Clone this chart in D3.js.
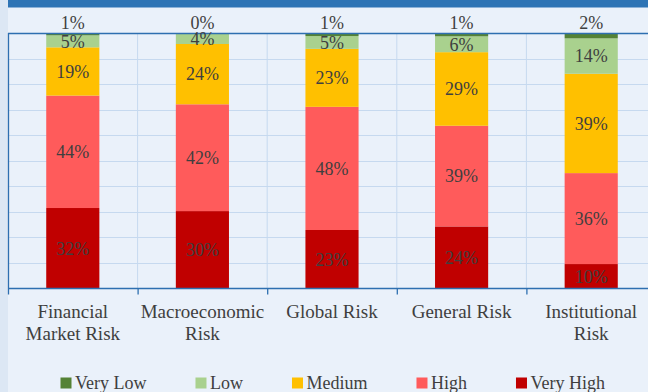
<!DOCTYPE html>
<html lang="en">
<head>
<meta charset="utf-8">
<title>Risk perception stacked columns</title>
<script src="https://cdn.jsdelivr.net/npm/d3@7"></script>
<style>
  html, body { margin: 0; padding: 0; background: #eaf1fa; }
  svg { display: block; font-family: "Liberation Serif", serif; }
</style>
</head>
<body>
<script>
// categories and tick labels (split over two lines like the original)
var categories = ["Financial Market Risk", "Macroeconomic Risk", "Global Risk", "General Risk", "Institutional Risk"];
var tickLines = [["Financial", "Market Risk"], ["Macroeconomic", "Risk"], ["Global Risk"], ["General Risk"], ["Institutional", "Risk"]];

// share of answers per level (percent)
var levels = ["Very Low", "Low", "Medium", "High", "Very High"];
var veryLow  = [0.9, 0.4, 1.2, 1.3, 2.1];
var low      = [4.7, 3.9, 5.0, 6.2, 13.9];
var medium   = [18.9, 23.6, 22.7, 28.8, 39.0];
var high     = [44.0, 41.8, 48.2, 39.4, 35.7];
var veryHigh = [31.5, 30.3, 22.9, 24.3, 9.6];

var colors = ["#548235", "#a9d18e", "#ffc000", "#ff5b5b", "#c00000"];

var w = 648, h = 392;
var svg = d3.select("body").append("svg").attr("width", w).attr("height", h);

// frame: light side strip + blue header band
svg.append("rect").attr("x", 0).attr("y", 0).attr("width", 8).attr("height", h).attr("fill", "#dce7f4");
svg.append("rect").attr("x", 8).attr("y", 0).attr("width", w - 8).attr("height", 7.5).attr("fill", "#2e74b5");

var raw = { "Very Low": veryLow, "Low": low, "Medium": medium, "High": high, "Very High": veryHigh };
var colorOf = d3.scaleOrdinal().domain(levels).range(colors);

// build rows for d3.stack
var table = categories.map(function(c, i) {
  var row = { cat: c, idx: i };
  levels.forEach(function(k) { row[k] = raw[k][i]; });
  return row;
});

// Very High sits at the bottom, Very Low on top
var stack = d3.stack().keys(levels.slice().reverse()).offset(d3.stackOffsetExpand);
var series = stack(table);

// note: "top" is taken by window.top, so plot edges get their own names
var plotL = 8, plotR = 656, plotT = 33, plotB = 288.5;

var x = d3.scaleBand()
  .domain(categories)
  .range([plotL, plotR])
  .paddingInner(0.59)
  .paddingOuter(0.295);

var y = d3.scaleLinear().domain([0, 1]).range([plotB, plotT]);

var step = x.step();
var edges = categories.map(function(c) { return x(c) - step * x.paddingInner() / 2; });

// gridlines
var grid = svg.append("g").attr("stroke", "#c6d9ef").attr("stroke-width", 1);
grid.selectAll("line.h")
  .data(y.ticks(10).filter(function(t) { return t > 0 && t < 1; }))
  .enter().append("line")
  .attr("x1", plotL).attr("x2", plotR)
  .attr("y1", function(d) { return Math.round(y(d)) + 0.5; })
  .attr("y2", function(d) { return Math.round(y(d)) + 0.5; });
grid.selectAll("line.v")
  .data(edges.slice(1))
  .enter().append("line")
  .attr("x1", function(d) { return d; }).attr("x2", function(d) { return d; })
  .attr("y1", plotT).attr("y2", plotB);

// bars
var layer = svg.selectAll("g.layer")
  .data(series)
  .enter().append("g")
  .attr("fill", function(d) { return colorOf(d.key); });

layer.selectAll("rect")
  .data(function(d) { return d; })
  .enter().append("rect")
  .attr("x", function(d) { return x(d.data.cat); })
  .attr("width", x.bandwidth())
  .attr("y", function(d) { return y(d[1]); })
  .attr("height", function(d) { return y(d[0]) - y(d[1]); });

// plot border + axis
var blue = "#2e6fb0";
svg.append("line").attr("x1", plotL + 0.5).attr("x2", plotL + 0.5).attr("y1", plotT).attr("y2", plotB)
  .attr("stroke", blue).attr("stroke-width", 1.3);
svg.append("line").attr("x1", plotL).attr("x2", w).attr("y1", plotT + 0.5).attr("y2", plotT + 0.5)
  .attr("stroke", blue).attr("stroke-width", 1.3);

var xAxis = d3.axisBottom(x).tickSize(0).tickFormat("");
var axisG = svg.append("g").attr("transform", "translate(0," + plotB + ")").call(xAxis);
axisG.select(".domain").attr("stroke", blue).attr("stroke-width", 1.3).attr("d", "M" + plotL + ",0H" + w);
axisG.selectAll(".edge")
  .data(edges)
  .enter().append("line")
  .attr("x1", function(d) { return d + 0.5; }).attr("x2", function(d) { return d + 0.5; })
  .attr("y1", 0).attr("y2", 6)
  .attr("stroke", blue).attr("stroke-width", 1.3);

// category labels
var textColor = "#3f3f3f";
var labels = svg.append("g").attr("fill", textColor).attr("font-size", 19).attr("text-anchor", "middle");
categories.forEach(function(c, i) {
  var t = labels.append("text").attr("x", x(c) + x.bandwidth() / 2).attr("y", 318);
  tickLines[i].forEach(function(line, j) {
    t.append("tspan").attr("x", x(c) + x.bandwidth() / 2).attr("dy", j === 0 ? 0 : 22).text(line);
  });
});

// value labels
var valG = svg.append("g").attr("fill", textColor).attr("font-size", 18).attr("text-anchor", "middle");
series.forEach(function(s) {
  s.forEach(function(d) {
    var cx = x(d.data.cat) + x.bandwidth() / 2;
    var txt = valG.append("text").attr("x", cx).text(Math.round(raw[s.key][d.data.idx]) + "%");
    if (s.key === "Very Low") {
      txt.attr("y", 29);
    } else {
      txt.attr("y", (y(d[0]) + y(d[1])) / 2).attr("dy", "0.35em");
    }
  });
});

// legend
var legend = svg.append("g").attr("font-size", 18).attr("fill", textColor);
var lx = 60.5;
levels.forEach(function(name) {
  legend.append("rect").attr("x", lx).attr("y", 377.5).attr("width", 11).attr("height", 11).attr("fill", colorOf(name));
  var t = legend.append("text").attr("x", lx + 14.5).attr("y", 389).text(name);
  lx = lx + 14.5 + t.node().getComputedTextLength() + 49;
});
</script>
</body>
</html>
